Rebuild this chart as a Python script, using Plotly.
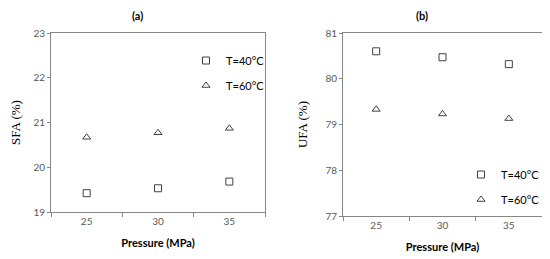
import plotly.graph_objects as go

pressure = ["25", "30", "35"]
sfa_40 = [19.42, 19.53, 19.68]
sfa_60 = [20.67, 20.77, 20.87]
ufa_40 = [80.60, 80.47, 80.32]
ufa_60 = [79.33, 79.23, 79.13]

W, H = 550, 259
OFF = 8  # page body margin
GRAY = "#595959"
LINE = "#868686"
MARK = "#404040"


def px_x(a, b):
    return [(a - OFF) / W, (b - OFF) / W]


def px_y(top, bottom):
    return [1 - (bottom - OFF) / H, 1 - (top - OFF) / H]


fig = go.Figure()

series = [
    ("x", "y", "legend", sfa_40, sfa_60),
    ("x2", "y2", "legend2", ufa_40, ufa_60),
]
for xa, ya, lg, v40, v60 in series:
    fig.add_trace(go.Scatter(
        x=pressure, y=v40, xaxis=xa, yaxis=ya, legend=lg,
        mode="markers", name="T=40°C", legendgroup=lg + "a",
        marker=dict(symbol="square-open", size=7, color=MARK, line=dict(width=1, color=MARK)),
    ))
    fig.add_trace(go.Scatter(
        x=pressure, y=v60, xaxis=xa, yaxis=ya, legend=lg,
        mode="markers", name="T=60°C", legendgroup=lg + "b",
        marker=dict(symbol="triangle-up-open", size=7, color=MARK, line=dict(width=1, color=MARK)),
    ))

tick_font = dict(family="Lato, Open Sans, sans-serif", size=10, color=GRAY)
serif = dict(family="Liberation Serif, Times New Roman, serif", size=13, color="#000000")
xcommon = dict(
    type="category", range=[-0.5, 2.5], showgrid=False, zeroline=False,
    showline=True, mirror=True, linecolor=LINE, linewidth=1,
    ticks="outside", tickson="boundaries", ticklen=4, tickcolor=LINE,
    tickfont=tick_font, fixedrange=True, automargin=False,
    title=dict(text="<b>Pressure (MPa)</b>", standoff=13,
               font=dict(family="Lato, Open Sans, sans-serif", size=11, color="#000000")),
)
ycommon = dict(
    showgrid=False, zeroline=False, dtick=1,
    showline=True, mirror=True, linecolor=LINE, linewidth=1, automargin=False,
    ticks="outside", ticklen=3, tickcolor=LINE, tickfont=tick_font, fixedrange=True,
)
legcommon = dict(
    font=dict(family="Lato, Open Sans, sans-serif", size=11, color="#000000"),
    bgcolor="rgba(0,0,0,0)", traceorder="grouped", tracegroupgap=6,
    itemwidth=30, xanchor="left", yanchor="top",
)

fig.update_layout(
    width=W, height=H,
    margin=dict(l=0, r=0, t=0, b=0),
    paper_bgcolor="white", plot_bgcolor="white",
    showlegend=True,
    xaxis=dict(xcommon, domain=px_x(51, 265), anchor="y"),
    yaxis=dict(ycommon, domain=px_y(33, 212), anchor="x", range=[19, 23],
               title=dict(text="SFA (%)", standoff=23, font=serif)),
    xaxis2=dict(xcommon, domain=px_x(343, 542), anchor="y2"),
    yaxis2=dict(ycommon, domain=px_y(33, 216), anchor="x2", range=[77, 81],
                title=dict(text="UFA (%)", standoff=14, font=serif)),
    legend=dict(legcommon, x=178 / W, y=1 - 38 / H),
    legend2=dict(legcommon, x=453 / W, y=1 - 152 / H),
    annotations=[
        dict(text="<b>(a)</b>", x=(137 - OFF) / W, y=1 - (7 - OFF) / H, xref="paper", yref="paper",
             xanchor="center", yanchor="top", showarrow=False,
             font=dict(family="Lato, Open Sans, sans-serif", size=11, color="#000000")),
        dict(text="<b>(b)</b>", x=(422 - OFF) / W, y=1 - (7 - OFF) / H, xref="paper", yref="paper",
             xanchor="center", yanchor="top", showarrow=False,
             font=dict(family="Lato, Open Sans, sans-serif", size=11, color="#000000")),
    ],
)

fig.write_html("out.html")
